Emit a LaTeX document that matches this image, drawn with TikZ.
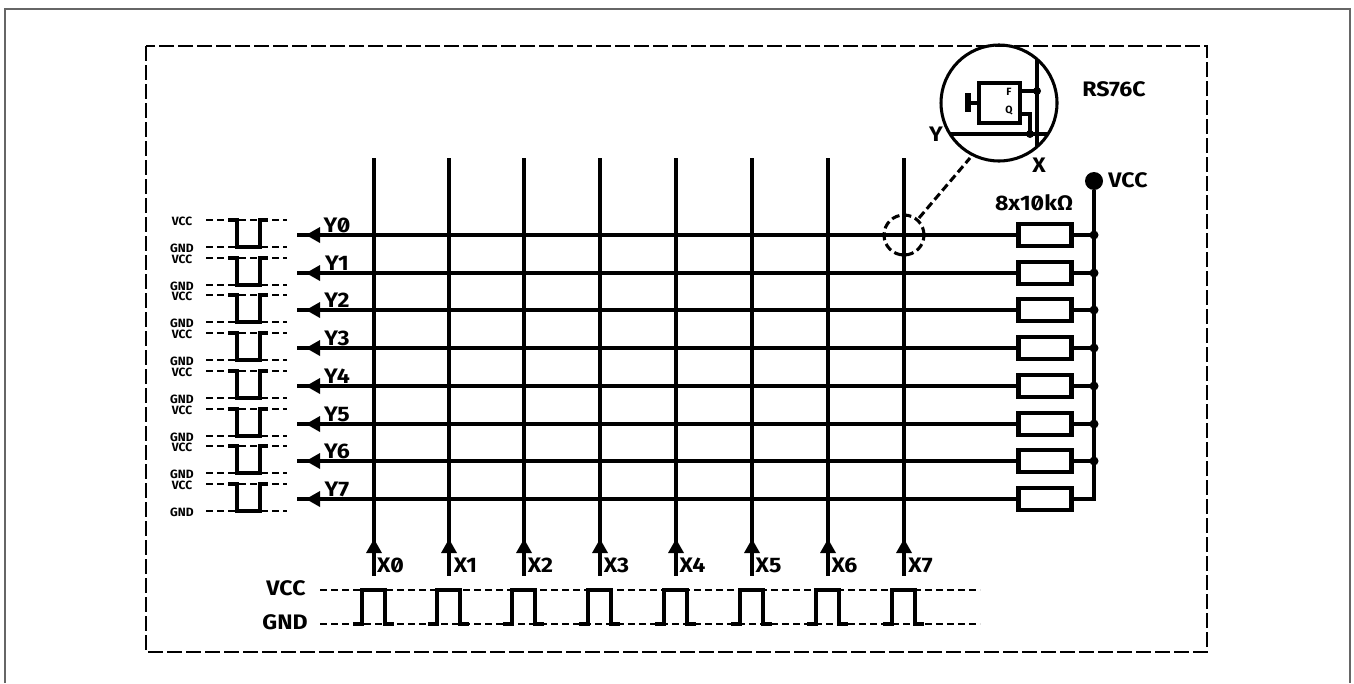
\documentclass[tikz,border=0pt]{standalone}
\usepackage{fontspec}
\setmainfont[RawFeature=+zero]{Fira Sans}
\tikzset{
  wire/.style={line width=3.05pt},
  pulse/.style={line width=3.05pt},
  dashline/.style={line width=1.5pt,dash pattern=on 7pt off 4pt},
  dot/.style={circle,fill=black,inner sep=0pt,minimum size=9pt},
  lab/.style={font=\fontsize{21}{21}\selectfont\bfseries\addfontfeatures{FakeStretch=1.1},inner sep=0pt},
  tiny/.style={font=\fontsize{12}{12}\selectfont\bfseries,inner sep=0pt},
  small/.style={font=\fontsize{10.5}{10.5}\selectfont\bfseries,inner sep=0pt},
  res/.style={draw,line width=4.2pt,minimum width=53pt,minimum height=22pt,inner sep=0pt,fill=white},
  head/.style={fill=black,draw=none}
}
\begin{document}
\begin{tikzpicture}[x=1pt,y=-1pt]
\useasboundingbox (0,0) rectangle (1354,683);
\fill[white] (0,0) rectangle (1354,683);
\draw[line width=2pt,color=black!60] (4.5,683) -- (4.5,8.5) -- (1350,8.5) -- (1350,683);
\draw[line width=1.7pt,dash pattern=on 15pt off 4pt] (146,46) rectangle (1207,652);
% vertical lines with arrows
\foreach \i/\x in {0/374,1/449,2/524,3/600,4/676,5/752,6/828,7/904}{
  \coordinate (xt\i) at (\x,158);
  \coordinate (xb\i) at (\x,576);
  \draw[wire] (xt\i) -- (xb\i);
  \fill[head] (\x,539) -- (\x+8,553) -- (\x-8,553) -- cycle;
  \node[lab,anchor=center] (xl\i) at (\x+16.5,565) {X\i};
  % bottom pulse
  \draw[pulse] (\x-21,624) -- (\x-12,624) -- (\x-12,590) -- (\x+11,590) -- (\x+11,624) -- (\x+20,624);
}
\draw[dashline] (320,590) -- (980,590);
\draw[dashline] (320,624) -- (980,624);
\node[lab] (vccb) at (286,588) {VCC};
\node[lab] (gndb) at (285,622) {GND};
% VCC bus
\node[circle,fill=black,inner sep=0pt,minimum size=18pt] (vcc) at (1094,181) {};
\node[lab] (vccl) at (1128,180) {VCC};
% rows
\foreach \i/\y in {0/235,1/273,2/310,3/348,4/386,5/424,6/461,7/499}{
  \coordinate (yl\i) at (297,\y);
  \node[res] (r\i) at (1045,\y) {};
  \coordinate (bus\i) at (1094,\y);
  \draw[wire] (yl\i) -- (r\i.west);
  \draw[wire] (r\i.east) -- (bus\i);
  \fill[head] (306,\y) -- (320,\y-8) -- (320,\y+8) -- cycle;
  \node[lab] (yn\i) at (337,\y-10) {Y\i};
  % left pulse
  \draw[dashline] (206,\y-15) -- (287,\y-15);
  \draw[dashline] (206,\y+12) -- (287,\y+12);
  \draw[pulse] (228,\y-15) -- (237,\y-15) -- (237,\y+12) -- (260,\y+12) -- (260,\y-15) -- (268,\y-15);
  \node[tiny] (vl\i) at (182,\y-14) {VCC};
  \node[tiny] (gl\i) at (182,\y+13) {GND};
}
\draw[wire,line join=miter] (r7.east) -- (bus7) -- (vcc);
\foreach \i in {0,...,6}{ \node[dot] (j\i) at (bus\i) {}; }
\node[lab] (rv) at (1034,203) {8x10kΩ};
% magnifier
\node[circle,draw,line width=3.05pt,dash pattern=on 8pt off 4pt,minimum size=40pt,inner sep=0pt] (sc) at (904,235) {};
\node[circle,draw,line width=3.05pt,minimum size=116pt,inner sep=0pt] (bc) at (999,103) {};
\coordinate (d1) at (919,218);
\coordinate (d2) at (970,158);
\draw[line width=3.05pt,dash pattern=on 8pt off 4pt] (d1) -- (d2);
\draw[wire] (1037,59) -- (1037,147);
\draw[wire] (950,134) -- (1048,134);
\node[draw,line width=3.4pt,minimum width=41pt,minimum height=40pt,inner sep=0pt,fill=white] (ff) at (999.5,103) {};
\draw[line width=4.2pt] (ff.west) -- (968,103);
\draw[line width=6pt] (968,93) -- (968,112);
\draw[wire] (1020,91) -- (1037,91);
\draw[wire] (1020,114) -- (1030,114) -- (1030,134);
\node[dot,minimum size=8pt] (jf) at (1037,91) {};
\node[dot,minimum size=8pt] (jq) at (1030,134) {};
\node[small] (f) at (1009,92) {F};
\node[small] (q) at (1009,111) {Q};
\node[lab] (yy) at (936,134) {Y};
\node[lab] (xx) at (1039,165) {X};
\node[lab] (rs) at (1114,89) {RS76C};
\end{tikzpicture}
\end{document}
